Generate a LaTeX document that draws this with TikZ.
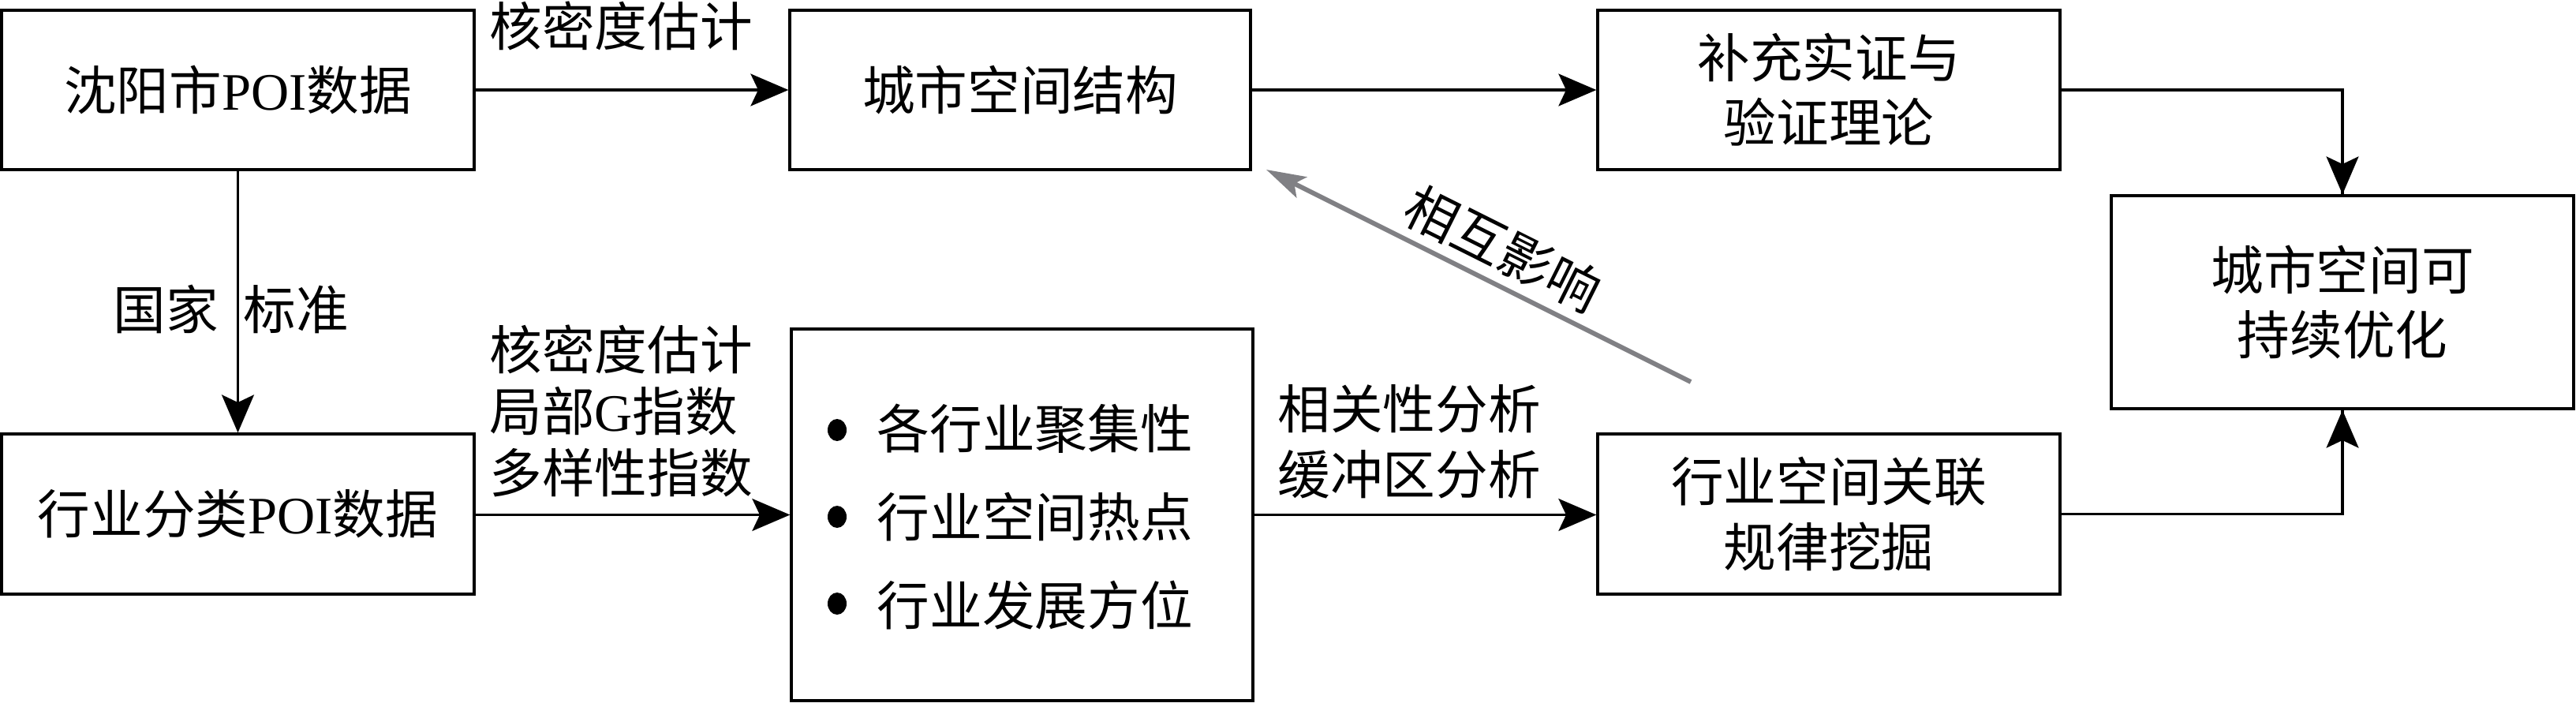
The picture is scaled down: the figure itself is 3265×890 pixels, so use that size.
\documentclass[tikz,border=0pt]{standalone}
\usepackage{fontspec}
\setmainfont{Liberation Serif}
\newfontfamily\cjk{Noto Sans CJK SC}
\usetikzlibrary{arrows.meta,shapes.geometric}
\newcommand{\px}{0.24pt}
\tikzset{
  box/.style={draw, line width=0.8pt, inner sep=0pt, align=center},
  lab/.style={inner sep=0pt, align=left},
  arr/.style={line width=0.8pt, -{Stealth[length=11.5pt, width=9.8pt, inset=2.3pt]}},
  conn/.style={line width=0.75pt},
  garr/.style={line width=1.4pt, draw={rgb,255:red,128;green,128;blue,132}, -{Stealth[length=12pt, width=7pt, inset=2.5pt]}},
  bul/.style={ellipse, fill, inner sep=0pt, minimum width=24*\px, minimum height=28*\px},
}
\begin{document}
\begin{tikzpicture}[x=0.24pt, y=-0.24pt, font=\cjk\fontsize{16}{19.7}\selectfont]
\useasboundingbox (0,0) rectangle (3265,890);
% boxes
\node[box, minimum width=599*\px, minimum height=202*\px] (a) at (301.5,114) {沈阳市\textrm{POI}数据};
\node[box, minimum width=584*\px, minimum height=202*\px] (b) at (1293,114) {城市空间结构};
\node[box, minimum width=586*\px, minimum height=202*\px] (c) at (2318,114) {补充实证与\\验证理论};
\node[box, minimum width=599*\px, minimum height=203*\px] (d) at (301.5,651.5) {行业分类\textrm{POI}数据};
\node[box, minimum width=585*\px, minimum height=471*\px] (e) at (1295.5,652.5) {};
\node[box, minimum width=586*\px, minimum height=203*\px] (f) at (2318,651.5) {行业空间关联\\规律挖掘};
\node[box, minimum width=586*\px, minimum height=270*\px] (g) at (2969,383) {城市空间可\\持续优化};
% bullets inside e
\node[bul] (b1) at (1061,545) {};
\node[bul] (b2) at (1061,655) {};
\node[bul] (b3) at (1061,765) {};
\node[lab, anchor=west] (t1) at (1111,543) {各行业聚集性};
\node[lab, anchor=west] (t2) at (1111,655) {行业空间热点};
\node[lab, anchor=west] (t3) at (1111,767) {行业发展方位};
% labels
\node[lab] (l1) at (787,33) {核密度估计};
\node[lab] (l2) at (210,392) {国家};
\node[lab] (l3) at (375,392) {标准};
\node[lab, font=\cjk\fontsize{16}{18.7}\selectfont] (l4) at (787,521) {核密度估计\\局部\textrm{G}指数\\多样性指数};
\node[lab, font=\cjk\fontsize{16}{19.9}\selectfont] (l5) at (1786,560) {相关性分析\\缓冲区分析};
\node[lab, rotate=-26.57] (l6) at (1905,315) {相互影响};
% connectors
\draw[arr] (a.east) -- (b.west);
\draw[arr] (b.east) -- (c.west);
\draw[arr] (d.east |- e.west) -- (e.west);
\draw[arr] (e.east) -- (f.west |- e.east);
\draw[arr] (a.south) -- (d.north);
\draw[conn] (c.east) -| (g.north) coordinate[pos=0.5] (cg);
\draw[arr] (cg) -- (g.north);
\draw[conn] (f.east) -| (g.south) coordinate[pos=0.5] (fg);
\draw[arr] (fg) -- (g.south);
\coordinate (gs) at (2143,484);
\coordinate (ge) at (1605,215);
\draw[garr] (gs) -- (ge);
\end{tikzpicture}
\end{document}
